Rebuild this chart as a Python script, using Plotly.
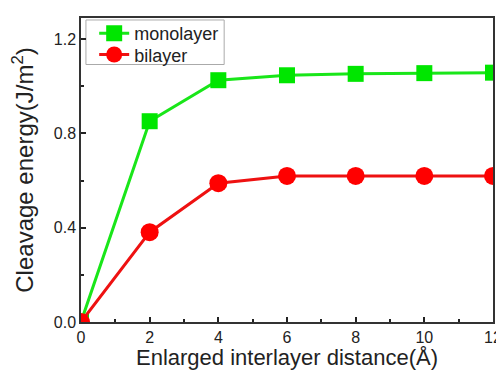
import plotly.graph_objects as go

x_vals = [0, 2, 4, 6, 8, 10, 12]
monolayer = [0.0, 0.852, 1.026, 1.047, 1.053, 1.056, 1.058]
bilayer = [0.0, 0.381, 0.589, 0.620, 0.620, 0.620, 0.620]

fig = go.Figure()
fig.add_trace(go.Scatter(
    x=x_vals, y=monolayer, name="monolayer", mode="lines+markers",
    line=dict(color="#19e619", width=3),
    marker=dict(symbol="square", size=16, color="#00e600"),
    legend="legend",
))
fig.add_trace(go.Scatter(
    x=x_vals, y=bilayer, name="bilayer", mode="lines+markers",
    line=dict(color="#ee1111", width=3),
    marker=dict(symbol="circle", size=18, color="#ff0000"),
    legend="legend2",
))

font = "Arial, Liberation Sans, sans-serif"
leg_common = dict(
    xanchor="left", yanchor="middle", borderwidth=0, bgcolor="rgba(0,0,0,0)",
    font=dict(size=18, family=font, color="#222222"), itemwidth=30,
)
# the page body adds an 8px offset, so the figure is 8px smaller in each direction
fig.update_layout(
    width=496, height=362,
    margin=dict(l=73, r=11, t=7, b=48),
    paper_bgcolor="white", plot_bgcolor="white",
    font=dict(family=font, color="#222222"),
    showlegend=True,
    legend=dict(x=0.032, y=0.949, **leg_common),
    legend2=dict(x=0.032, y=0.879, **leg_common),
    shapes=[dict(type="rect", xref="paper", yref="paper",
                 x0=0.012, x1=0.3475, y0=0.847, y1=0.9935,
                 line=dict(color="#aaaaaa", width=1), fillcolor="rgba(0,0,0,0)", layer="below")],
    xaxis=dict(
        range=[0, 12], tickvals=[0, 2, 4, 6, 8, 10, 12],
        ticks="inside", ticklen=5, tickwidth=1.5, tickcolor="#222",
        minor=dict(tickvals=[1, 3, 5, 7, 9, 11], ticks="inside", ticklen=3, tickcolor="#222"),
        showline=True, linecolor="#333", linewidth=1.5, mirror=True,
        showgrid=False, zeroline=False, automargin=False,
        tickfont=dict(size=16, family=font),
        title=dict(text="Enlarged interlayer distance(Å)", font=dict(size=22, family=font), standoff=5),
    ),
    yaxis=dict(
        range=[0, 1.29], tickvals=[0, 0.4, 0.8, 1.2], ticktext=["0.0", "0.4", "0.8", "1.2"],
        ticks="inside", ticklen=5, tickwidth=1.5, tickcolor="#222",
        minor=dict(tickvals=[0.2, 0.6, 1.0], ticks="inside", ticklen=3, tickcolor="#222"),
        showline=True, linecolor="#333", linewidth=1.5, mirror=True,
        showgrid=False, zeroline=False, automargin=False,
        tickfont=dict(size=16, family=font),
        title=dict(text="Cleavage energy(J/m<sup>2</sup>)", font=dict(size=24, family=font), standoff=13),
    ),
)

fig.write_html("out.html")
